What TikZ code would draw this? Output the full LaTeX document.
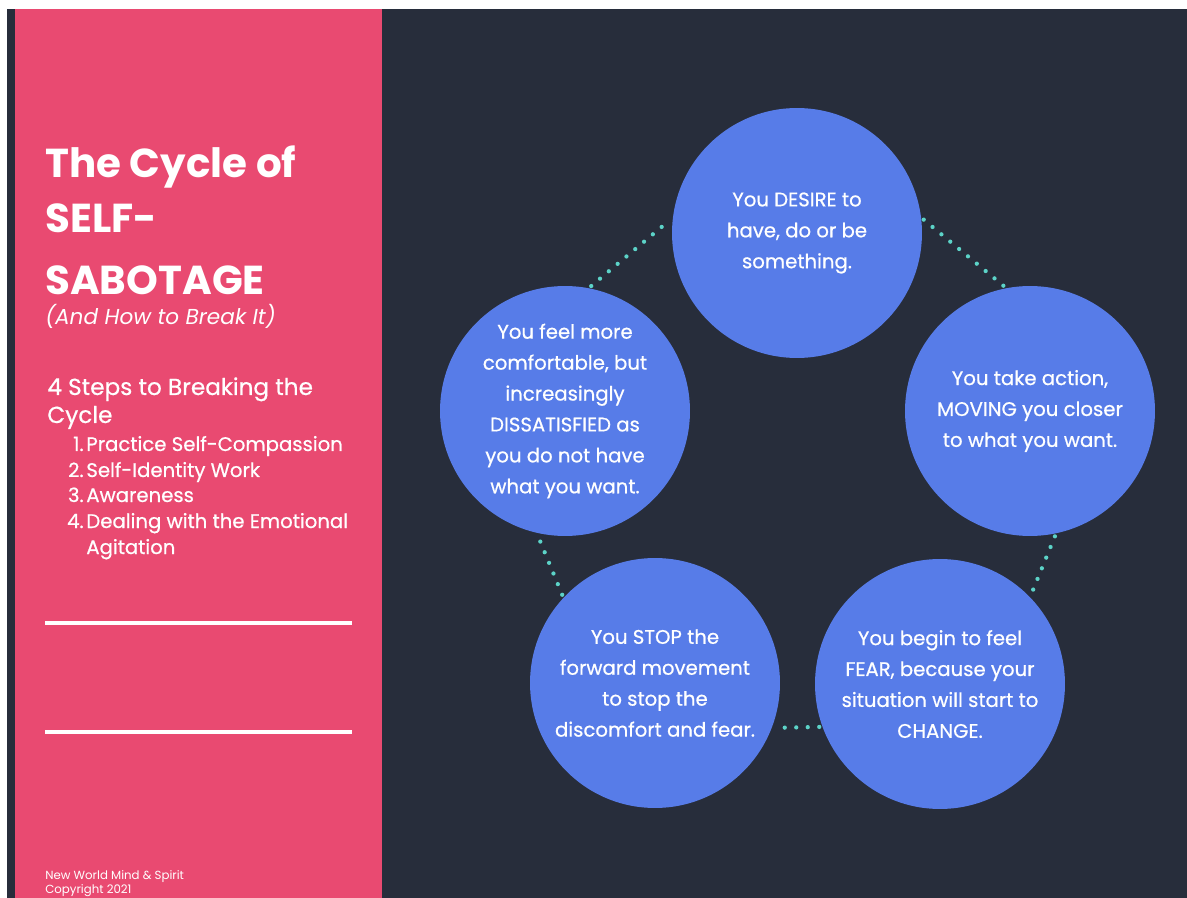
\documentclass[tikz,border=0pt]{standalone}
\usepackage{fontspec}
\setmainfont{Poppins}
\newfontfamily\medfont{Poppins}[FakeBold=0.6]
\definecolor{bgdark}{HTML}{272D3B}
\definecolor{pinkbar}{HTML}{E94A71}
\definecolor{cblue}{HTML}{577CE8}
\definecolor{dotteal}{HTML}{5CD3C8}
\begin{document}
\begin{tikzpicture}[x=0.02cm,y=-0.02cm,
  stage/.style={circle, fill=cblue, minimum size=5cm, inner sep=0pt, align=center, text=white, font=\medfont\fontsize{11.2}{17.6}\selectfont},
  dotlink/.style={dotteal, line width=0.085cm, line cap=round, dash pattern=on 0pt off 0.23cm, shorten <=0.06cm, shorten >=0.06cm},
  sidetext/.style={anchor=base west, text=white, inner sep=0pt},
  sidenum/.style={anchor=base east, text=white, inner sep=0pt},
  titlefont/.style={font=\fontsize{23}{33}\selectfont\bfseries},
  listfont/.style={font=\medfont\fontsize{11.2}{14}\selectfont},
  hrule/.style={white, line width=0.08cm}]
\useasboundingbox (0,0) rectangle (1187,898);
\fill[white] (0,0) rectangle (1187,898);
\fill[bgdark] (7,9) rectangle (1187,898);
\fill[pinkbar] (15,9) rectangle (382,898);
% left panel
\node[sidetext, titlefont] (t1) at (45,178) {The Cycle of};
\node[sidetext, titlefont] (t2) at (45,233) {SELF-};
\node[sidetext, titlefont] (t3) at (45,295) {SABOTAGE};
\node[sidetext, font=\fontsize{12.3}{14}\selectfont\itshape] (sub) at (45,325) {(And How to Break It)};
\node[sidetext, font=\medfont\fontsize{13.2}{15}\selectfont] (h1) at (47,395) {4 Steps to Breaking the};
\node[sidetext, font=\medfont\fontsize{13.2}{15}\selectfont] (h2) at (47,423) {Cycle};
\node[sidenum, listfont] (n1) at (84,451) {1.};
\node[sidetext, listfont] (i1) at (86,451) {Practice Self-Compassion};
\node[sidenum, listfont] (n2) at (84,477) {2.};
\node[sidetext, listfont] (i2) at (86,477) {Self-Identity Work};
\node[sidenum, listfont] (n3) at (84,502) {3.};
\node[sidetext, listfont] (i3) at (86,502) {Awareness};
\node[sidenum, listfont] (n4) at (84,528) {4.};
\node[sidetext, listfont] (i4) at (86,528) {Dealing with the Emotional};
\node[sidetext, listfont] (i4b) at (86,554) {Agitation};
\coordinate (r1a) at (45,623); \coordinate (r1b) at (352,623);
\coordinate (r2a) at (45,732); \coordinate (r2b) at (352,732);
\draw[hrule] (r1a) -- (r1b);
\draw[hrule] (r2a) -- (r2b);
\node[sidetext, font=\fontsize{6.7}{8}\selectfont] (f1) at (45,879) {New World Mind \& Spirit};
\node[sidetext, font=\fontsize{6.7}{8}\selectfont] (f2) at (45,893) {Copyright 2021};
% cycle
\node[stage] (c1) at (797,233) {You DESIRE to\\have, do or be\\something.};
\node[stage] (c2) at (1030,411) {You take action,\\MOVING you closer\\to what you want.};
\node[stage] (c3) at (940,684) {You begin to feel\\FEAR, because your\\situation will start to\\CHANGE.};
\node[stage] (c4) at (655,683) {You STOP the\\forward movement\\to stop the\\discomfort and fear.};
\node[stage] (c5) at (565,411) {You feel more\\comfortable, but\\increasingly\\DISSATISFIED as\\you do not have\\what you want.};
\draw[dotlink] (c1.7) -- (c2.101);
\draw[dotlink] (c2.-78) -- (c3.44);
\draw[dotlink] (c3.-160) -- (c4.-21);
\draw[dotlink] (c4.137) -- (c5.-103);
\draw[dotlink] (c5.79) -- (c1.173);
\end{tikzpicture}
\end{document}
